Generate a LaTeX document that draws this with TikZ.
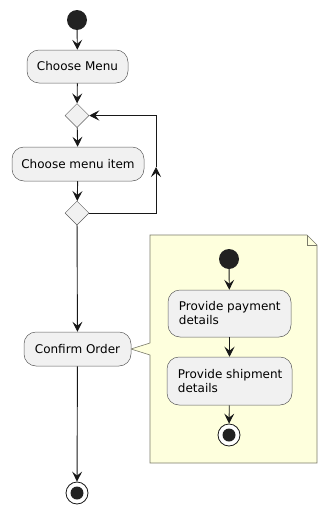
\documentclass[tikz,border=0pt]{standalone}
\usepackage{fontspec}
\setmainfont{DejaVu Sans}
\usetikzlibrary{arrows.meta,shapes.geometric}
\definecolor{boxfill}{HTML}{F1F1F1}
\definecolor{lin}{HTML}{181818}
\definecolor{dot}{HTML}{222222}
\definecolor{notefill}{HTML}{FEFFDD}
\definecolor{notelin}{HTML}{7A7A6A}
\begin{document}
\begin{tikzpicture}[x=1pt,y=-1pt,
  act/.style={draw=lin!70, line width=0.5pt, fill=boxfill, rounded corners=12pt,
    font=\fontsize{12}{14}\selectfont, inner sep=0pt, align=left},
  txt/.style={font=\fontsize{12}{14}\selectfont, inner sep=0pt, align=left, anchor=west},
  dia/.style={diamond, draw=lin!70, line width=0.5pt, fill=boxfill, inner sep=0pt,
    minimum width=24pt, minimum height=24pt},
  startdot/.style={circle, fill=dot, inner sep=0pt, minimum size=20pt},
  enddot/.style={circle, draw=lin, line width=0.8pt, fill=white, inner sep=0pt, minimum size=22pt,
    path picture={\fill[dot] (path picture bounding box.center) circle (6.5pt);}},
  arr/.style={draw=lin, line width=0.9pt, -{Stealth[length=10pt,width=10pt,inset=4pt]}},
  ln/.style={draw=lin, line width=0.9pt}
]
\useasboundingbox (0,0) rectangle (327,514);

% note
\path[draw=notelin, line width=0.6pt, fill=notefill]
  (150,235) -- (307,235) -- (317,245) -- (317,463) -- (150,463) -- (150,355)
  -- (131,349) -- (150,343) -- cycle;
\draw[notelin, line width=0.6pt] (307,235) -- (307,245) -- (317,245);

% main flow
\node[startdot] (s) at (77,20) {};
\node[act, minimum width=101pt, minimum height=33pt] (menu) at (77.5,66.5) {Choose Menu};
\node[dia] (d1) at (77,115.5) {};
\node[act, minimum width=132pt, minimum height=34pt] (item) at (78,164) {Choose menu item};
\node[dia] (d2) at (77,213) {};
\node[act, minimum width=107pt, minimum height=34pt] (conf) at (77.5,349) {Confirm Order};
\node[enddot] (e) at (77,493) {};

\draw[arr] (s) -- (menu);
\draw[arr] (menu) -- (d1);
\draw[arr] (d1) -- (item);
\draw[arr] (item) -- (d2);
\draw[arr] (d2) -- (conf);
\draw[arr] (conf) -- (e);

\coordinate (lb) at (156,213);
\coordinate (lm) at (156,167);
\coordinate (lt) at (156,115.5);
\draw[arr] (d2.east) -- (lb) -- (lm);
\draw[arr] (lm) -- (lt) -- (d1.east);

% note content
\node[startdot] (ns) at (229,259) {};
\node[act, minimum width=123pt, minimum height=47pt] (pay) at (229.5,313.5) {};
\node[txt] (payt) at ([xshift=11pt]pay.west) {Provide payment\\details};
\node[act, minimum width=125pt, minimum height=48pt] (ship) at (229.5,381) {};
\node[txt] (shipt) at ([xshift=11pt]ship.west) {Provide shipment\\details};
\node[enddot] (ne) at (229,435) {};

\draw[arr] (ns) -- (pay);
\draw[arr] (pay) -- (ship);
\draw[arr] (ship) -- (ne);
\end{tikzpicture}
\end{document}
